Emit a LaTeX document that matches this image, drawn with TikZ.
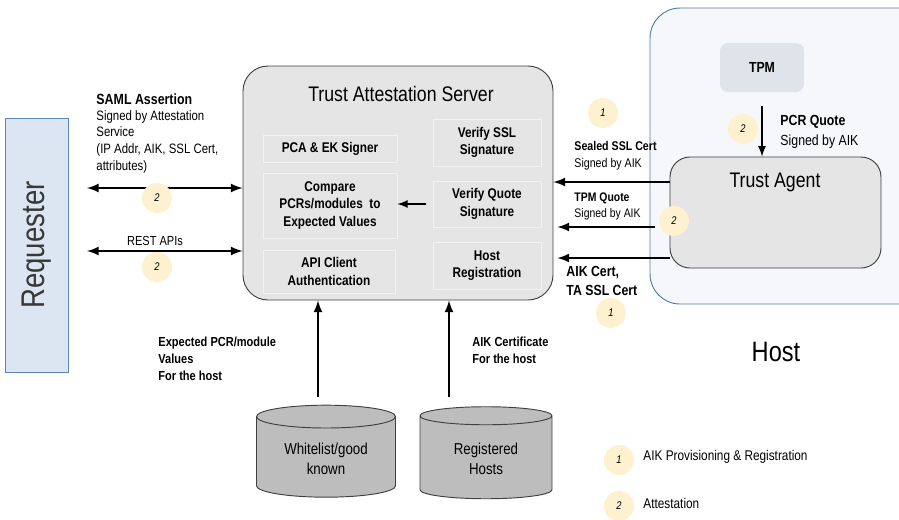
\documentclass[tikz,border=0pt]{standalone}
\usepackage{fontspec}
\setmainfont{Liberation Sans}[FakeStretch=0.84]
\usetikzlibrary{arrows,shapes.geometric}

\definecolor{reqfill}{HTML}{DCE6F2}
\definecolor{reqline}{HTML}{5B87B8}
\definecolor{hostfill}{HTML}{F5F7FB}
\definecolor{hostline}{HTML}{4F7CAC}
\definecolor{srvfill}{HTML}{E5E5E5}
\definecolor{tpmfill}{HTML}{DFE3EA}
\definecolor{dbfill}{HTML}{BDBDBD}
\definecolor{badgefill}{HTML}{FDF1CF}
\newcommand\pxu{0.03cm}

\tikzset{
	srvbox/.style={draw=black!75,fill=srvfill,rounded corners=25*\pxu,line width=0.8pt},
	part/.style={draw=white!95!black,fill=srvfill,line width=0.6pt,align=center,
		font=\fontsize{12}{15}\selectfont\bfseries},
	badge/.style={circle,fill=badgefill,minimum size=30*\pxu,inner sep=0pt,
		font=\fontsize{9.5}{9.5}\selectfont\itshape},
	lbl/.style={anchor=north west,inner sep=0pt,align=left,font=\fontsize{11.6}{14.2}\selectfont},
	flow/.style={line width=2.4pt},
	db/.style={cylinder,shape border rotate=90,aspect=0.25,draw=black!75,fill=dbfill,
		line width=0.8pt,align=center,font=\fontsize{13.5}{17}\selectfont}
}

\begin{document}
\begin{tikzpicture}[>=latex,thick,x=0.03cm,y=-0.03cm]
\useasboundingbox (0,0) rectangle (899,519);

% requester
\node[draw=reqline,fill=reqfill,line width=0.8pt,minimum width=63*\pxu,minimum height=254*\pxu]
	(req) at (36.5,245) {};
\node[rotate=90,font=\fontsize{28}{28}\selectfont,text=black!78] (reqtxt) at (req) {Requester};

% host
\node[draw=hostline,fill=hostfill,line width=0.8pt,rounded corners=30*\pxu,
	minimum width=290*\pxu,minimum height=296*\pxu] (host) at (795,156) {};
\node[fill=tpmfill,rounded corners=8*\pxu,minimum width=84*\pxu,minimum height=49*\pxu,
	font=\fontsize{12.5}{12.5}\selectfont\bfseries] (tpm) at (762,67.5) {TPM};
\node[srvbox,rounded corners=20*\pxu,minimum width=211*\pxu,minimum height=111*\pxu]
	(ta) at (775.5,212.5) {};
\node[font=\fontsize{18}{18}\selectfont] (tatxt) at (775,182) {Trust Agent};
\node[font=\fontsize{24}{24}\selectfont] (hosttxt) at (776,352) {Host};

% server
\node[srvbox,minimum width=310*\pxu,minimum height=234*\pxu] (tas) at (398,183) {};
\node[font=\fontsize{18}{18}\selectfont] (tastxt) at (401,94) {Trust Attestation Server};

\node[part,minimum width=134*\pxu,minimum height=27*\pxu] (pca) at (330,148.5) {PCA \& EK Signer};
\node[part,minimum width=134*\pxu,minimum height=65*\pxu] (cmp) at (330,205.5)
	{Compare\\PCRs/modules~ to\\Expected Values};
\node[part,minimum width=132*\pxu,minimum height=43*\pxu] (api) at (329,271.5)
	{API Client\\Authentication};
\node[part,minimum width=108*\pxu,minimum height=47*\pxu] (vssl) at (487,142.5)
	{Verify SSL\\Signature};
\node[part,minimum width=108*\pxu,minimum height=46*\pxu] (vq) at (487,204)
	{Verify Quote\\Signature};
\node[part,minimum width=108*\pxu,minimum height=47*\pxu] (hreg) at (487,265.5)
	{Host\\Registration};

\coordinate (vqout) at (426,204);
\draw[->,line width=2pt] (vqout) -- (cmp.east |- vqout);

% databases
\node[db,minimum width=139*\pxu,minimum height=92*\pxu] (wl) at (326,459) {Whitelist/good\\known};
\node[db,minimum width=132*\pxu,minimum height=92*\pxu] (rh) at (486,459) {Registered\\Hosts};

\coordinate (wlout) at (318,397);
\coordinate (rhout) at (449,397);
\draw[->,flow] (wlout) -- (wlout |- tas.south);
\draw[->,flow] (rhout) -- (rhout |- tas.south);

\node[lbl,font=\fontsize{11.2}{14.2}\selectfont\bfseries] (expl) at (158,337)
	{Expected PCR/module\\Values\\For the host};
\node[lbl,font=\fontsize{11.2}{14.2}\selectfont\bfseries] (aikl) at (472,337)
	{AIK Certificate\\For the host};

% requester links
\coordinate (saml) at (87,188);
\coordinate (rest) at (87,251);
\draw[<->,flow] (saml) -- (tas.west |- saml);
\draw[<->,flow] (rest) -- (tas.west |- rest);

\node[lbl,font=\fontsize{12.6}{12.6}\selectfont\bfseries] (samlt) at (96,93) {SAML Assertion};
\node[lbl] (samll) at (96,110) {Signed by Attestation\\Service\\(IP Addr, AIK, SSL Cert,\\attributes)};
\node[font=\fontsize{11.2}{11.2}\selectfont] (restl) at (155,241) {REST APIs};
\node[badge] (b2a) at (157,198) {2};
\node[badge] (b2b) at (157,267) {2};

% agent links
\coordinate (sslin) at (670,182);
\coordinate (qin) at (659,227);
\coordinate (aikin) at (670,258);
\draw[->,flow] (sslin) -- (tas.east |- sslin);
\draw[->,flow] ([xshift=-4*\pxu]qin) -- ([xshift=4*\pxu]tas.east |- qin);
\draw[->,flow] (aikin) -- ([xshift=4*\pxu]tas.east |- aikin);
\draw[->,flow,line width=2pt] (tpm.south |- 0,106) -- (tpm.south |- ta.north);

\node[lbl,font=\fontsize{10.8}{14.2}\selectfont] (ssll) at (574,141) {\textbf{Sealed SSL Cert}\\Signed by AIK};
\node[lbl,font=\fontsize{10.6}{14.2}\selectfont] (ql) at (574,192) {\textbf{TPM Quote}\\Signed by AIK};
\node[lbl,font=\fontsize{12.5}{16}\selectfont\bfseries] (aikl2) at (566,266) {AIK Cert,\\TA SSL Cert};
\node[lbl,font=\fontsize{12.5}{17}\selectfont] (pcrl) at (780,115) {\textbf{PCR Quote}\\Signed by AIK};

\node[badge] (b1a) at (603,113) {1};
\node[badge] (b2c) at (674,221) {2};
\node[badge] (b1b) at (611,313) {1};
\node[badge] (b2d) at (743,129) {2};

% legend
\node[badge] (k1) at (619,460) {1};
\node[badge] (k2) at (619,506) {2};
\node[anchor=west,inner sep=0pt,font=\fontsize{12}{12}\selectfont] (k1t) at (643,457) {AIK Provisioning \& Registration};
\node[anchor=west,inner sep=0pt,font=\fontsize{12}{12}\selectfont] (k2t) at (643,503) {Attestation};

\end{tikzpicture}
\end{document}
